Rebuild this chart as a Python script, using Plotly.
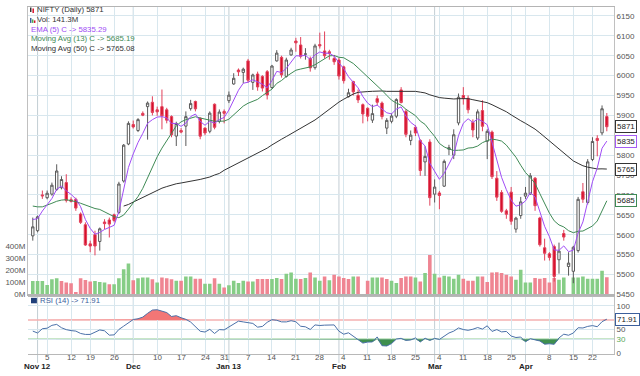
import plotly.graph_objects as go
import pandas as pd
import numpy as np

# ---------------- data ----------------
dates = [
    "2012-10-31", "2012-11-01", "2012-11-02", "2012-11-05", "2012-11-06", "2012-11-07", "2012-11-08", "2012-11-09",
    "2012-11-12", "2012-11-13", "2012-11-15", "2012-11-16", "2012-11-19", "2012-11-20", "2012-11-21", "2012-11-22",
    "2012-11-23", "2012-11-26", "2012-11-27", "2012-11-29", "2012-11-30",
    "2012-12-03", "2012-12-04", "2012-12-05", "2012-12-06", "2012-12-07", "2012-12-10", "2012-12-11", "2012-12-12",
    "2012-12-13", "2012-12-14", "2012-12-17", "2012-12-18", "2012-12-19", "2012-12-20", "2012-12-21", "2012-12-24",
    "2012-12-26", "2012-12-27", "2012-12-28", "2012-12-31",
    "2013-01-01", "2013-01-02", "2013-01-03", "2013-01-04", "2013-01-07", "2013-01-08", "2013-01-09", "2013-01-10",
    "2013-01-11", "2013-01-14", "2013-01-15", "2013-01-16", "2013-01-17", "2013-01-18", "2013-01-21", "2013-01-22",
    "2013-01-23", "2013-01-24", "2013-01-25", "2013-01-28", "2013-01-29", "2013-01-30", "2013-01-31",
    "2013-02-01", "2013-02-04", "2013-02-05", "2013-02-06", "2013-02-07", "2013-02-08", "2013-02-11", "2013-02-12",
    "2013-02-13", "2013-02-14", "2013-02-15", "2013-02-18", "2013-02-19", "2013-02-20", "2013-02-21", "2013-02-22",
    "2013-02-25", "2013-02-26", "2013-02-27", "2013-02-28",
    "2013-03-01", "2013-03-04", "2013-03-05", "2013-03-06", "2013-03-07", "2013-03-08", "2013-03-11", "2013-03-12",
    "2013-03-13", "2013-03-14", "2013-03-15", "2013-03-18", "2013-03-19", "2013-03-20", "2013-03-21", "2013-03-22",
    "2013-03-25", "2013-03-26", "2013-03-28",
    "2013-04-01", "2013-04-02", "2013-04-03", "2013-04-04", "2013-04-05", "2013-04-08", "2013-04-09", "2013-04-10",
    "2013-04-11", "2013-04-12", "2013-04-15", "2013-04-16", "2013-04-17", "2013-04-18", "2013-04-22", "2013-04-23",
    "2013-04-25", "2013-04-26",
]

opens = [5597, 5610, 5700, 5693, 5702, 5714, 5718, 5731, 5688, 5689,
         5652, 5625, 5577, 5600, 5583, 5632, 5637, 5650, 5656, 5735,
         5828, 5877, 5862, 5905, 5922, 5933, 5914, 5922, 5914, 5897,
         5848, 5862, 5873, 5917, 5935, 5893, 5868, 5860, 5928, 5885,
         5910, 5937, 5979, 6014, 6008, 6037, 5983, 6004, 5998, 6010,
         5970, 6037, 6046, 5998, 6052, 6087, 6077, 6054, 6043, 6020,
         6078, 6062, 6060, 6043, 6039, 6022, 5947, 5985, 5950, 5927,
         5918, 5888, 5942, 5931, 5868, 5885, 5898, 5964, 5910, 5837,
         5870, 5837, 5783, 5833, 5702, 5705, 5722, 5815, 5800, 5881,
         5950, 5943, 5882, 5843, 5912, 5835, 5858, 5742, 5706, 5660,
         5707, 5614, 5648, 5697, 5702, 5742, 5642, 5567, 5552, 5570,
         5537, 5603, 5520, 5508, 5560, 5708, 5681, 5789, 5842, 5856,
         5897]

highs = [5643, 5648, 5711, 5711, 5731, 5777, 5747, 5752, 5694, 5693,
         5656, 5631, 5585, 5610, 5618, 5639, 5643, 5653, 5733, 5828,
         5885, 5887, 5893, 5910, 5935, 5948, 5922, 5965, 5919, 5900,
         5884, 5868, 5910, 5939, 5937, 5895, 5870, 5910, 5930, 5915,
         5915, 5960, 6006, 6018, 6020, 6042, 6005, 6010, 6001, 6014,
         6027, 6064, 6050, 6045, 6070, 6095, 6097, 6069, 6048, 6080,
         6108, 6111, 6065, 6052, 6045, 6025, 5967, 5987, 5965, 5930,
         5920, 5927, 5950, 5935, 5893, 5905, 5943, 5971, 5915, 5862,
         5875, 5840, 5822, 5840, 5739, 5710, 5789, 5826, 5865, 5955,
         5971, 5950, 5890, 5915, 5938, 5865, 5862, 5760, 5712, 5665,
         5720, 5645, 5695, 5720, 5755, 5745, 5645, 5590, 5556, 5575,
         5580, 5612, 5556, 5572, 5695, 5730, 5790, 5845, 5850, 5925,
         5906]

lows = [5585, 5606, 5690, 5689, 5698, 5710, 5714, 5681, 5681, 5660,
        5627, 5572, 5556, 5548, 5560, 5614, 5593, 5631, 5652, 5731,
        5825, 5867, 5858, 5898, 5839, 5900, 5899, 5865, 5880, 5845,
        5823, 5855, 5823, 5912, 5910, 5840, 5850, 5855, 5865, 5880,
        5880, 5931, 5977, 5999, 5981, 5982, 5964, 5962, 5960, 5940,
        5967, 6035, 5995, 5995, 6050, 6060, 6043, 6040, 6010, 6015,
        6068, 6043, 6040, 6027, 5990, 5980, 5945, 5950, 5931, 5880,
        5885, 5881, 5925, 5890, 5853, 5880, 5893, 5930, 5845, 5825,
        5848, 5748, 5748, 5673, 5681, 5664, 5720, 5800, 5790, 5875,
        5927, 5905, 5845, 5838, 5860, 5790, 5740, 5685, 5655, 5640,
        5625, 5605, 5640, 5690, 5700, 5660, 5570, 5535, 5535, 5482,
        5502, 5585, 5497, 5478, 5555, 5680, 5676, 5785, 5797, 5850,
        5860]

closes = [5619.70, 5645.05, 5697.70, 5704.20, 5724.40, 5760.10, 5738.75, 5686.25, 5683.70, 5666.90,
          5631.00, 5574.05, 5571.40, 5571.55, 5614.80, 5627.75, 5626.60, 5635.90, 5727.45, 5825.00,
          5879.85, 5870.95, 5889.25, 5900.50, 5930.90, 5907.40, 5908.90, 5898.80, 5888.00, 5851.50,
          5879.60, 5857.90, 5896.80, 5929.60, 5916.40, 5847.70, 5855.75, 5905.60, 5870.10, 5908.35,
          5905.10, 5950.85, 5993.25, 6009.50, 6016.15, 5988.40, 6001.70, 5971.50, 5968.65, 5951.30,
          6024.05, 6056.60, 6001.85, 6039.20, 6064.40, 6082.30, 6048.50, 6054.30, 6019.35, 6074.65,
          6074.80, 6049.90, 6055.75, 6034.75, 5998.90, 5987.25, 5956.90, 5959.20, 5938.80, 5903.50,
          5897.85, 5904.40, 5932.95, 5896.95, 5887.40, 5898.20, 5939.70, 5932.40, 5852.25, 5850.30,
          5855.75, 5761.35, 5796.90, 5693.05, 5719.70, 5698.50, 5784.35, 5818.60, 5851.20, 5945.70,
          5942.35, 5914.10, 5863.30, 5908.90, 5872.60, 5859.85, 5745.95, 5694.40, 5658.75, 5651.35,
          5633.85, 5641.60, 5682.55, 5704.40, 5748.10, 5672.90, 5574.75, 5553.25, 5542.95, 5495.10,
          5558.70, 5594.00, 5528.55, 5568.40, 5688.95, 5689.10, 5783.10, 5834.40, 5836.90, 5916.60,
          5871.45]

volumes_m = [111, 111, 111, 78, 124, 132, 111, 97, 92, 20,
             132, 119, 105, 111, 102, 97, 83, 83, 132, 206,
             255, 116, 132, 138, 138, 124, 97, 138, 133, 125,
             112, 112, 147, 147, 128, 128, 87, 87, 133, 87,
             57, 74, 112, 93, 112, 106, 106, 126, 126, 126,
             126, 134, 126, 169, 180, 129, 126, 134, 180, 139,
             112, 147, 117, 161, 147, 134, 126, 147, 147, 0,
             112, 139, 139, 139, 126, 112, 93, 134, 147, 147,
             139, 106, 175, 325, 169, 139, 153, 148, 128, 161,
             128, 112, 112, 148, 148, 101, 180, 183, 175, 161,
             148, 120, 202, 98, 98, 134, 128, 134, 98, 134,
             120, 139, 0, 139, 139, 148, 128, 128, 128, 194,
             141.3]

# indicator values that depend on history before the visible window
ema5_first = 5638.0
ma13_head = [5672, 5670, 5670, 5674, 5679, 5684, 5687, 5688, 5686, 5683, 5679, 5675]          # first 12 bars
ma50_first_index = 19
ma50_head = [5672, 5676, 5682, 5688, 5694, 5700, 5705, 5712, 5717, 5721,
             5725, 5728, 5730, 5732, 5734, 5736, 5739, 5742, 5745, 5750,
             5754, 5762, 5768, 5775, 5781, 5787, 5793, 5799, 5805, 5811]                       # bars 19..48
rsi_head = [47, 43, 52, 53, 59, 61, 54, 50, 48, 47, 42, 40, 40, 45]                             # first 14 bars

holidays = ["2012-11-14", "2012-11-28", "2012-12-25", "2013-03-27", "2013-03-29", "2013-04-19", "2013-04-24"]

week_ticks = ["2012-11-05", "2012-11-12", "2012-11-19", "2012-11-26", "2012-12-03", "2012-12-10", "2012-12-17",
              "2012-12-24", "2012-12-31", "2013-01-07", "2013-01-14", "2013-01-21", "2013-01-28", "2013-02-04",
              "2013-02-11", "2013-02-18", "2013-02-25", "2013-03-04", "2013-03-11", "2013-03-18", "2013-03-25",
              "2013-04-01", "2013-04-08", "2013-04-15", "2013-04-22"]
week_labels = ["5", "12", "19", "26", "", "10", "17", "24", "31", "7", "14", "21", "28", "4",
               "11", "18", "25", "4", "11", "18", "25", "", "8", "15", "22"]
month_starts = ["2012-11-01", "2012-12-03", "2013-01-01", "2013-02-01", "2013-03-01", "2013-04-01"]
month_labels = ["Nov 12", "Dec", "Jan 13", "Feb", "Mar", "Apr"]

price_ticks = [5450, 5500, 5550, 5600, 5650, 5700, 5750, 5800, 5850, 5900, 5950, 6000, 6050, 6100, 6150]
price_tick_text = ["5450", "5500", "5550", "5600", "5650", "5700", "5750", "5800", "", "5900", "5950",
                   "6000", "6050", "6100", "6150"]   # 5850 is hidden behind the last-value boxes
vol_ticks_m = [0, 100, 200, 300, 400]

legend_lines = ["NIFTY (Daily) 5871", "Vol: 141.3M", "EMA (5) C -> 5835.29",
                "Moving Avg (13) C -> 5685.19", "Moving Avg (50) C -> 5765.08"]
rsi_label = "RSI (14) -> 71.91"
last_boxes = [("5871", 5871.45, "#333333"), ("5835", 5835.29, "#a55cf5"),
              ("5765", 5765.08, "#333333"), ("5685", 5685.19, "#3f8a55")]
rsi_box = ("71.91", 71.91, "#3b5f9c")

# ---------------- derived series ----------------
c = pd.Series(closes, dtype=float)
n = len(c)

ema5 = [ema5_first]
for v in closes[1:]:
    ema5.append(ema5[-1] + (v - ema5[-1]) * 2.0 / 6.0)

ma13 = c.rolling(13).mean()
ma13.iloc[:len(ma13_head)] = ma13_head

ma50 = c.rolling(50).mean()
ma50.iloc[ma50_first_index:ma50_first_index + len(ma50_head)] = ma50_head

d = c.diff()
gain = d.clip(lower=0).rolling(14).mean()
loss = (-d).clip(lower=0).rolling(14).mean()
rsi = 100 * gain / (gain + loss)
rsi.iloc[:len(rsi_head)] = rsi_head
rsi_hi = np.maximum(rsi.values, 70)
rsi_lo = np.minimum(rsi.values, 30)

vol = [v * 1e6 for v in volumes_m]
vol_colors = ["#86cd86" if i == 0 or closes[i] >= closes[i - 1] else "#ef8592" for i in range(n)]

# ---------------- figure ----------------
W, H = 640, 376
ML, MR, MT, MB = 22, 26, 5, 22
PW, PH = W - ML - MR, H - MT - MB


def px(xp):
    return (xp - ML) / PW


def py(yp):
    return (H - MB - yp) / PH


FONT = "Liberation Sans, Arial, sans-serif"
GRID = "#d8e7ee"

fig = go.Figure()

fig.add_trace(go.Bar(x=dates, y=vol, marker=dict(color=vol_colors, line=dict(width=0)),
                     xaxis="x2", yaxis="y", hoverinfo="skip"))

fig.add_trace(go.Candlestick(
    x=dates, open=opens, high=highs, low=lows, close=closes, xaxis="x2", yaxis="y2",
    increasing=dict(line=dict(color="#5a5a5a", width=1), fillcolor="#ffffff"),
    decreasing=dict(line=dict(color="#e2405a", width=1), fillcolor="#d50f2a"),
    whiskerwidth=0, hoverinfo="skip"))

fig.add_trace(go.Scatter(x=dates, y=ma50, mode="lines", line=dict(color="#333333", width=1),
                         xaxis="x2", yaxis="y2", hoverinfo="skip"))
fig.add_trace(go.Scatter(x=dates, y=ma13, mode="lines", line=dict(color="#3f8a55", width=1),
                         xaxis="x2", yaxis="y2", hoverinfo="skip"))
fig.add_trace(go.Scatter(x=dates, y=ema5, mode="lines", line=dict(color="#a04cf5", width=1),
                         xaxis="x2", yaxis="y2", hoverinfo="skip"))

# RSI panel
fig.add_trace(go.Scatter(x=dates, y=[70] * n, mode="lines", line=dict(width=0, color="rgba(0,0,0,0)"),
                         xaxis="x", yaxis="y3", hoverinfo="skip"))
fig.add_trace(go.Scatter(x=dates, y=rsi_hi, mode="lines", line=dict(width=0, color="rgba(0,0,0,0)"),
                         fill="tonexty", fillcolor="#f37676", xaxis="x", yaxis="y3", hoverinfo="skip"))
fig.add_trace(go.Scatter(x=dates, y=[30] * n, mode="lines", line=dict(width=0, color="rgba(0,0,0,0)"),
                         xaxis="x", yaxis="y3", hoverinfo="skip"))
fig.add_trace(go.Scatter(x=dates, y=rsi_lo, mode="lines", line=dict(width=0, color="rgba(0,0,0,0)"),
                         fill="tonexty", fillcolor="#3e8f4e", xaxis="x", yaxis="y3", hoverinfo="skip"))
fig.add_trace(go.Scatter(x=dates, y=rsi, mode="lines", line=dict(color="#4a70a8", width=1),
                         xaxis="x", yaxis="y3", hoverinfo="skip"))

rb = [dict(bounds=["sat", "mon"]), dict(values=holidays)]
xrange = ["2012-10-30", "2013-04-29 12:00"]

price_dom = [py(294), 1]
rsi_dom = [0, py(297)]

shapes = []
for ms in month_starts:
    shapes.append(dict(type="line", xref="x", yref="paper", x0=ms, x1=ms, y0=py(363), y1=1,
                       line=dict(color="#c3ced4", width=1), layer="below"))
shapes.append(dict(type="line", xref="paper", yref="y3", x0=0, x1=1, y0=70, y1=70,
                   line=dict(color="#f5b0b0", width=1.5), layer="below"))
shapes.append(dict(type="line", xref="paper", yref="y3", x0=0, x1=1, y0=30, y1=30,
                   line=dict(color="#8fcd8f", width=1.2), layer="below"))
# legend icons
shapes += [
    dict(type="rect", xref="paper", yref="paper", x0=px(24), x1=px(25.5), y0=py(10), y1=py(5.5),
         fillcolor="#333", line=dict(width=0)),
    dict(type="rect", xref="paper", yref="paper", x0=px(26.5), x1=px(28), y0=py(11), y1=py(6.5),
         fillcolor="#d8102a", line=dict(width=0)),
    dict(type="rect", xref="paper", yref="paper", x0=px(24), x1=px(25.5), y0=py(21), y1=py(16),
         fillcolor="#3b5f9c", line=dict(width=0)),
    dict(type="rect", xref="paper", yref="paper", x0=px(26), x1=px(27.5), y0=py(21), y1=py(17.5),
         fillcolor="#4caf50", line=dict(width=0)),
    dict(type="rect", xref="paper", yref="paper", x0=px(28), x1=px(29.5), y0=py(21), y1=py(18.5),
         fillcolor="#d8102a", line=dict(width=0)),
    dict(type="rect", xref="paper", yref="paper", x0=px(25), x1=px(31), y0=py(303), y1=py(297.5),
         fillcolor="#1f3f7a", line=dict(width=0)),
]

annotations = []
leg_colors = ["#333333", "#333333", "#a04cf5", "#3f8a55", "#333333"]
leg_x = [31, 31, 25, 25, 25]
leg_y = [8, 18, 27.5, 37, 46.5]
for t, col, lx, ly in zip(legend_lines, leg_colors, leg_x, leg_y):
    annotations.append(dict(text=t, xref="paper", yref="paper", x=px(lx), y=py(ly), xanchor="left",
                            yanchor="middle", showarrow=False, xshift=-1, borderpad=0,
                            font=dict(family=FONT, size=7.8, color=col)))
annotations.append(dict(text=rsi_label, xref="paper", yref="paper", x=px(34), y=py(300.5), xanchor="left",
                        yanchor="middle", showarrow=False, xshift=-1, borderpad=0,
                        font=dict(family=FONT, size=7.8, color="#3b5f9c")))
for t, v, col in last_boxes:
    annotations.append(dict(text=t, xref="paper", yref="y2", x=1, y=v, xanchor="left", yanchor="middle",
                            showarrow=False, bgcolor="#ffffff", bordercolor=col, borderwidth=1, borderpad=1,
                            xshift=1, font=dict(family=FONT, size=8, color="#222")))
annotations.append(dict(text=rsi_box[0], xref="paper", yref="y3", x=1, y=rsi_box[1], xanchor="left",
                        yanchor="middle", showarrow=False, bgcolor="#ffffff", bordercolor=rsi_box[2],
                        borderwidth=1, borderpad=1, xshift=1, font=dict(family=FONT, size=8, color="#222")))
# day-of-month labels under the weekly grid lines
for wt, wl in zip(week_ticks, week_labels):
    if wl:
        annotations.append(dict(text=wl, xref="x", yref="paper", x=wt, y=py(357.5), xanchor="center",
                                yanchor="middle", showarrow=False,
                                font=dict(family=FONT, size=8, color="#555")))
for ms, ml in zip(month_starts, month_labels):
    annotations.append(dict(text="<b>" + ml + "</b>", xref="x", yref="paper", x=ms, y=py(367),
                            xanchor="center", yanchor="middle", showarrow=False,
                            font=dict(family=FONT, size=8, color="#222")))

axis_font = dict(family=FONT, size=8, color="#555")

fig.update_layout(
    width=W, height=H, margin=dict(l=ML, r=MR, t=MT, b=MB),
    paper_bgcolor="white", plot_bgcolor="white", showlegend=False, bargap=0.25,
    font=dict(family=FONT, size=8, color="#444"),
    xaxis=dict(domain=[0, 1], anchor="y3", type="date", rangebreaks=rb, range=xrange,
               tickmode="array", tickvals=week_ticks, showticklabels=False, ticks="",
               showgrid=True, gridcolor=GRID, gridwidth=1,
               showline=True, linecolor="#b8b8b8", linewidth=1, mirror=True, zeroline=False),
    xaxis2=dict(domain=[0, 1], anchor="y", matches="x", type="date", rangebreaks=rb, range=xrange,
                tickmode="array", tickvals=week_ticks, showticklabels=False, ticks="",
                showgrid=True, gridcolor=GRID, gridwidth=1, rangeslider=dict(visible=False),
                showline=True, linecolor="#b4b4b4", linewidth=1.5, mirror=True, zeroline=False),
    yaxis=dict(domain=price_dom, anchor="x2", side="left", range=[0, 289 / 12.2 * 1e8],
               tickmode="array", tickvals=[v * 1e6 for v in vol_ticks_m],
               ticktext=[f"{v}M" for v in vol_ticks_m], showgrid=False, zeroline=False,
               tickfont=axis_font, ticks="", showline=True, linecolor="#c0c0c0"),
    yaxis2=dict(overlaying="y", anchor="x2", side="right", range=[5450, 6172.5],
                tickmode="array", tickvals=price_ticks, ticktext=price_tick_text, showgrid=True,
                gridcolor=GRID, zeroline=False, tickfont=axis_font, ticks="", showline=True,
                linecolor="#c0c0c0"),
    yaxis3=dict(domain=rsi_dom, anchor="x", side="right", range=[-1, 117.7],
                tickmode="array", tickvals=[0, 30, 50, 100],
                ticktext=["0", "<span style='color:#5aa85a'>30</span>", "50", "100"],
                showgrid=True, gridcolor=GRID, zeroline=False, tickfont=axis_font, ticks="",
                showline=True, linecolor="#c0c0c0"),
    shapes=shapes, annotations=annotations,
)

fig.write_html("out.html", config={"displayModeBar": False, "staticPlot": True},
               post_script="document.body.style.margin='0';document.body.style.overflow='hidden';")
